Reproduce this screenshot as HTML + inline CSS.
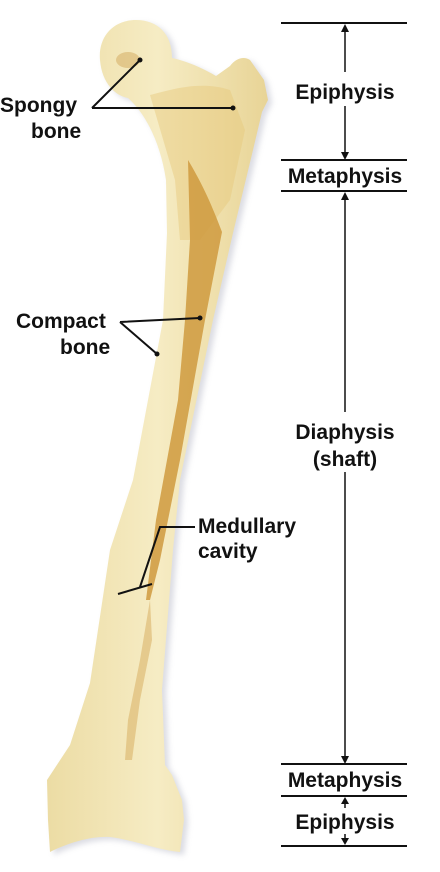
<!DOCTYPE html>
<html><head><meta charset="utf-8"><style>
html,body{margin:0;padding:0;background:#fff;width:440px;height:872px;overflow:hidden}
svg{display:block}
text{font-family:"Liberation Sans",Arial,sans-serif;font-weight:bold;fill:#111;font-size:21px}
</style></head><body>
<svg width="440" height="872" viewBox="0 0 440 872">
<defs>
<filter id="sh" x="-20%" y="-20%" width="140%" height="140%"><feGaussianBlur stdDeviation="3"/></filter>
<linearGradient id="bg" x1="0" x2="1" y1="0" y2="0"><stop offset="0" stop-color="#ecdca4"/><stop offset="0.5" stop-color="#f6ecc4"/><stop offset="1" stop-color="#e8d496"/></linearGradient>
</defs>
<g>
<path d="M262 112 L268 100 L264 80 L250 60 C244 56 236 58 230 66 L216 76 C206 70 190 62 172 58 C172 34 158 20 136 20 C112 20 98 38 100 60 C102 84 116 96 128 98 C144 112 160 140 166 180 L167 233 L163 320 L133 480 L110 550 L90 683 L70 745 L47 780 L48 820 L50 852 C70 842 92 836 110 837 C134 840 158 850 180 852 L184 820 L182 800 L172 775 L165 765 L162 690 L173 550 L180 480 L213 320 L233 233 L253 150 Z" fill="#9a9cb0" opacity="0.35" filter="url(#sh)" transform="translate(4,3)"/>
<path d="M262 112 L268 100 L264 80 L250 60 C244 56 236 58 230 66 L216 76 C206 70 190 62 172 58 C172 34 158 20 136 20 C112 20 98 38 100 60 C102 84 116 96 128 98 C144 112 160 140 166 180 L167 233 L163 320 L133 480 L110 550 L90 683 L70 745 L47 780 L48 820 L50 852 C70 842 92 836 110 837 C134 840 158 850 180 852 L184 820 L182 800 L172 775 L165 765 L162 690 L173 550 L180 480 L213 320 L233 233 L253 150 Z" fill="url(#bg)"/>
<path d="M150 95 C170 90 200 80 230 90 L245 130 L230 200 L200 240 L180 240 L175 180 Z" fill="#e6c77a" opacity="0.45"/>
<path d="M188 160 C200 180 210 200 222 232 L205 320 L180 460 L160 560 L150 600 L146 600 L156 520 L178 400 L185 320 L190 240 Z" fill="#cf9a3e" opacity="0.85"/>
<path d="M150 600 L140 660 L128 720 L125 760 L132 760 L140 700 L152 640 Z" fill="#d6a95a" opacity="0.5"/>
<ellipse cx="128" cy="60" rx="12" ry="8" fill="#d7b36a" opacity="0.6"/>
</g>
<g stroke="#111" stroke-width="2" fill="none">
<path d="M92 108 L140 60 M92 108 L233 108"/>
<path d="M120 322 L200 318 M120 322 L157 354"/>
<path d="M195 527 L160 527 L140 587 M118 594 L152 584"/>
</g>
<g fill="#111">
<circle cx="140" cy="60" r="2.5"/><circle cx="233" cy="108" r="2.5"/>
<circle cx="200" cy="318" r="2.5"/><circle cx="157" cy="354" r="2.5"/>
</g>
<text x="0" y="112">Spongy</text>
<text x="31" y="138">bone</text>
<text x="16" y="328">Compact</text>
<text x="60" y="354">bone</text>
<text x="198" y="533">Medullary</text>
<text x="198" y="558">cavity</text>
<g stroke="#111" stroke-width="2">
<line x1="281" y1="23" x2="407" y2="23"/>
<line x1="281" y1="160" x2="407" y2="160"/>
<line x1="281" y1="191" x2="407" y2="191"/>
<line x1="281" y1="764" x2="407" y2="764"/>
<line x1="281" y1="796" x2="407" y2="796"/>
<line x1="281" y1="846" x2="407" y2="846"/>
<line x1="345" y1="28" x2="345" y2="72" stroke-width="1.5"/>
<line x1="345" y1="106" x2="345" y2="154" stroke-width="1.5"/>
<line x1="345" y1="196" x2="345" y2="412" stroke-width="1.5"/>
<line x1="345" y1="472" x2="345" y2="758" stroke-width="1.5"/>
<line x1="345" y1="800" x2="345" y2="808" stroke-width="1.5"/>
<line x1="345" y1="834" x2="345" y2="841" stroke-width="1.5"/>
</g>
<g fill="#111">
<path d="M341 32 L345 24 L349 32Z"/><path d="M341 152 L345 160 L349 152Z"/>
<path d="M341 200 L345 192 L349 200Z"/><path d="M341 756 L345 764 L349 756Z"/>
<path d="M341 804 L345 797 L349 804Z"/><path d="M341 838 L345 845 L349 838Z"/>
</g>
<text x="345" y="99" text-anchor="middle">Epiphysis</text>
<text x="345" y="183" text-anchor="middle">Metaphysis</text>
<text x="345" y="439" text-anchor="middle">Diaphysis</text>
<text x="345" y="466" text-anchor="middle">(shaft)</text>
<text x="345" y="787" text-anchor="middle">Metaphysis</text>
<text x="345" y="829" text-anchor="middle">Epiphysis</text>
</svg>
</body></html>
